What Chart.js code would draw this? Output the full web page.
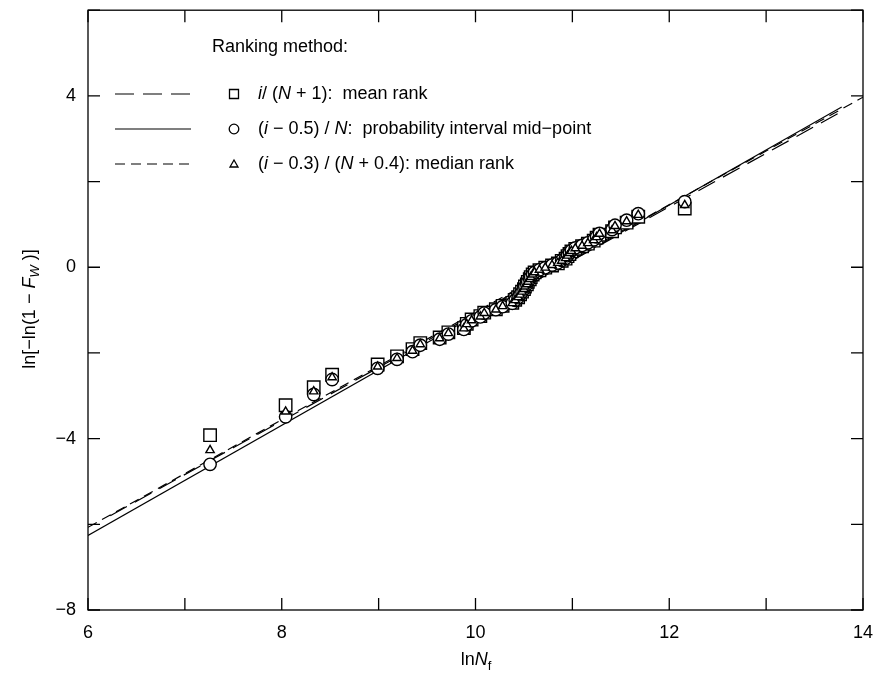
<!DOCTYPE html>
<html><head><meta charset="utf-8">
<script src="https://cdn.jsdelivr.net/npm/chart.js@4.4.1/dist/chart.umd.min.js"></script>
<style>html,body{margin:0;padding:0;background:#fff;}</style>
</head><body>
<canvas id="c" width="874" height="677" style="width:874px;height:677px;display:block"></canvas>
<script>
// ---- data ----
const lnNf = [7.26,8.04,8.33,8.52,8.99,9.19,9.35,9.43,9.63,9.72,
  9.88,9.91,9.96,10.05,10.09,10.21,10.28,10.38,10.41,10.44,
  10.46,10.48,10.50,10.51,10.53,10.54,10.56,10.57,10.59,10.61,
  10.66,10.72,10.79,10.85,10.89,10.93,10.95,10.97,10.99,11.03,
  11.10,11.16,11.22,11.25,11.28,11.41,11.44,11.56,11.68,12.16];
const meanRank = [-3.92,-3.22,-2.80,-2.51,-2.27,-2.08,-1.91,-1.77,-1.64,-1.52,
  -1.42,-1.32,-1.22,-1.14,-1.06,-0.98,-0.90,-0.83,-0.76,-0.70,
  -0.63,-0.57,-0.51,-0.45,-0.40,-0.34,-0.28,-0.23,-0.17,-0.12,
  -0.07,-0.01,0.04,0.09,0.15,0.20,0.26,0.31,0.37,0.43,
  0.49,0.55,0.62,0.69,0.76,0.84,0.93,1.04,1.18,1.37];
const midPoint = [-4.60,-3.49,-2.97,-2.62,-2.36,-2.15,-1.97,-1.82,-1.68,-1.56,
  -1.45,-1.34,-1.25,-1.16,-1.07,-0.99,-0.92,-0.84,-0.77,-0.71,
  -0.64,-0.58,-0.51,-0.45,-0.40,-0.34,-0.28,-0.23,-0.17,-0.12,
  -0.06,-0.01,0.05,0.10,0.16,0.21,0.27,0.33,0.39,0.45,
  0.51,0.57,0.64,0.71,0.79,0.88,0.98,1.10,1.25,1.53];
const medianRank = [-4.27,-3.37,-2.90,-2.57,-2.32,-2.12,-1.95,-1.80,-1.66,-1.54,
  -1.43,-1.33,-1.24,-1.15,-1.07,-0.99,-0.91,-0.84,-0.77,-0.70,
  -0.64,-0.57,-0.51,-0.45,-0.40,-0.34,-0.28,-0.23,-0.17,-0.12,
  -0.06,-0.01,0.05,0.10,0.15,0.21,0.27,0.33,0.38,0.44,
  0.50,0.56,0.63,0.70,0.78,0.86,0.96,1.07,1.22,1.45];
// fitted lines: end points
const meanLineX = [6.23, 13.80], meanLineY = [-5.80, 3.66];
const midLineX = [6.0, 13.78], midLineY = [-6.26, 3.74];
const medianLineX = [6.0, 14.0], medianLineY = [-6.07, 3.97];
const xTickLabels = [6, 8, 10, 12, 14];
const yTickLabels = [-8, -4, 0, 4];

const FONT = '"Liberation Sans", Arial, sans-serif';
const pts = (xs, ys) => xs.map((x, i) => ({x, y: ys[i]}));
const minus = v => (v < 0 ? '\u2212' + Math.abs(v) : String(v));

function drawRich(ctx, parts, x, y, align) {
  let total = 0;
  const widths = parts.map(p => {
    ctx.font = (p.it ? 'italic ' : '') + (p.size || 18) + 'px ' + FONT;
    const w = ctx.measureText(p.t).width; total += w; return w;
  });
  let cx = align === 'center' ? x - total / 2 : x;
  parts.forEach((p, i) => {
    ctx.font = (p.it ? 'italic ' : '') + (p.size || 18) + 'px ' + FONT;
    ctx.fillText(p.t, cx, y + (p.dy || 0));
    cx += widths[i];
  });
}

const decor = {
  id: 'decor',
  afterDatasetsDraw(chart) {
    const ctx = chart.ctx, a = chart.chartArea;
    const xs = chart.scales.x, ys = chart.scales.y;
    ctx.save();
    ctx.strokeStyle = '#000'; ctx.lineWidth = 1.3;
    ctx.strokeRect(a.left, a.top, a.right - a.left, a.bottom - a.top);
    const TL = 12;
    ctx.beginPath();
    for (let v = 6; v <= 14; v += 1) {
      const px = xs.getPixelForValue(v);
      ctx.moveTo(px, a.bottom); ctx.lineTo(px, a.bottom - TL);
      ctx.moveTo(px, a.top); ctx.lineTo(px, a.top + TL);
    }
    for (let v = -8; v <= 6; v += 2) {
      const py = ys.getPixelForValue(v);
      ctx.moveTo(a.left, py); ctx.lineTo(a.left + TL, py);
      ctx.moveTo(a.right, py); ctx.lineTo(a.right - TL, py);
    }
    ctx.stroke();

    // legend
    ctx.fillStyle = '#000'; ctx.textBaseline = 'middle'; ctx.textAlign = 'left';
    drawRich(ctx, [{t: 'Ranking method:'}], 212, 47);
    const rows = [
      {y: 94, dash: [19, 9], mk: 'sq', parts: [{t: 'i', it: 1}, {t: '/ ('}, {t: 'N', it: 1}, {t: ' + 1):  mean rank'}]},
      {y: 129, dash: [], mk: 'ci', parts: [{t: '('}, {t: 'i', it: 1}, {t: ' \u2212 0.5) / '}, {t: 'N', it: 1}, {t: ':  probability interval mid\u2212point'}]},
      {y: 164, dash: [10, 6], mk: 'tr', parts: [{t: '('}, {t: 'i', it: 1}, {t: ' \u2212 0.3) / ('}, {t: 'N', it: 1}, {t: ' + 0.4): median rank'}]}
    ];
    rows.forEach(r => {
      ctx.lineWidth = 1.2; ctx.setLineDash(r.dash);
      ctx.beginPath(); ctx.moveTo(115, r.y); ctx.lineTo(191, r.y); ctx.stroke();
      ctx.setLineDash([]); ctx.lineWidth = 1.3;
      ctx.beginPath();
      if (r.mk === 'sq') ctx.rect(229.5, r.y - 4.5, 9, 9);
      else if (r.mk === 'ci') ctx.arc(234, r.y, 4.8, 0, Math.PI * 2);
      else { ctx.moveTo(234, r.y - 4); ctx.lineTo(238, r.y + 3); ctx.lineTo(230, r.y + 3); ctx.closePath(); }
      ctx.stroke();
      drawRich(ctx, r.parts, 258, r.y);
    });

    // axis titles
    ctx.textBaseline = 'middle';
    drawRich(ctx, [{t: 'ln'}, {t: 'N', it: 1}, {t: 'f', size: 13, dy: 6}], 476, 660, 'center');
    ctx.translate(30, 309); ctx.rotate(-Math.PI / 2);
    drawRich(ctx, [{t: 'ln[\u2212ln(1 \u2212 '}, {t: 'F', it: 1}, {t: 'W', it: 1, size: 13, dy: 5}, {t: ' )]'}], 0, 0, 'center');
    ctx.restore();
  }
};

const mk = (label, xs, ys, style, radius, order) => ({
  label, data: pts(xs, ys), pointStyle: style, pointRadius: radius, pointHoverRadius: radius,
  borderColor: '#000', backgroundColor: '#fff', pointBorderWidth: 1.4, showLine: false, order
});
const ln = (label, xs, ys, dash) => ({
  label, data: pts(xs, ys), showLine: true, borderColor: '#000', borderWidth: 1.2,
  borderDash: dash, pointRadius: 0, fill: false, order: 10
});
const zeroPad = s => { s.paddingTop = 0; s.paddingBottom = 0; s.paddingLeft = 0; s.paddingRight = 0; };

new Chart(document.getElementById('c'), {
  type: 'scatter',
  data: {datasets: [
    ln('mean fit', meanLineX, meanLineY, [19, 9]),
    ln('mid-point fit', midLineX, midLineY, []),
    ln('median fit', medianLineX, medianLineY, [10, 6]),
    mk('i/(N+1)', lnNf, meanRank, 'rect', 8.8, 3),
    mk('(i-0.5)/N', lnNf, midPoint, 'circle', 6.2, 2),
    mk('(i-0.3)/(N+0.4)', lnNf, medianRank, 'triangle', 4.8, 1)
  ]},
  options: {
    responsive: false, animation: false, devicePixelRatio: 1,
    layout: {padding: {left: 0, top: 8, right: 11, bottom: 0}},
    plugins: {legend: {display: false}, tooltip: {enabled: false}},
    scales: {
      x: {min: 6, max: 14, grid: {display: false, drawTicks: false}, border: {display: false},
        afterFit(s) { s.height = 67; zeroPad(s); },
        afterBuildTicks(s) { s.ticks = xTickLabels.map(v => ({value: v})); },
        ticks: {padding: 12, color: '#000', font: {family: FONT, size: 18}, maxRotation: 0, callback: v => minus(v)}},
      y: {min: -8, max: 6, grid: {display: false, drawTicks: false}, border: {display: false},
        afterFit(s) { s.width = 88; zeroPad(s); },
        afterBuildTicks(s) { s.ticks = yTickLabels.map(v => ({value: v})); },
        ticks: {padding: 12, color: '#000', font: {family: FONT, size: 18}, callback: v => minus(v)}}
    }
  },
  plugins: [decor]
});
</script></body></html>
